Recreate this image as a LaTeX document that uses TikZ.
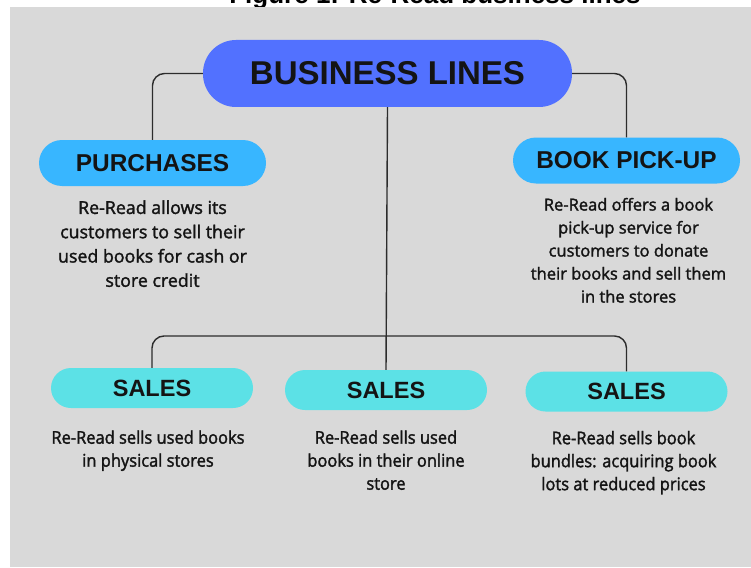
\documentclass[tikz,border=0pt]{standalone}
\usepackage{fontspec}
\setmainfont{Open Sans}
\newfontfamily\headfont{Liberation Sans}
\newfontfamily\bodyfont{Open Sans}[FakeBold=1.8]
\newfontfamily\narrowfont{Open Sans}[FakeBold=1.8,FakeStretch=0.94]
\newfontfamily\titlefont{Liberation Sans}
\usetikzlibrary{positioning}

\definecolor{bggray}{HTML}{D9D9D9}
\definecolor{royal}{HTML}{5271FF}
\definecolor{sky}{HTML}{38B6FF}
\definecolor{aqua}{HTML}{5CE1E6}
\definecolor{ink}{HTML}{141414}

\begin{document}
\begin{tikzpicture}
                [x=1pt,y=-1pt,node distance=14pt,
                blob/.style={rectangle,inner sep=0pt,text=ink},
                big/.style={blob,fill=royal,minimum width=369pt,minimum height=67pt,rounded corners=33pt,
                    font=\headfont\bfseries\fontsize{33}{36}\selectfont},
                mid/.style={blob,fill=sky,minimum width=227pt,minimum height=46pt,rounded corners=23pt,
                    font=\headfont\bfseries\fontsize{24.4}{28}\selectfont},
                low/.style={blob,fill=aqua,minimum width=202pt,minimum height=40pt,rounded corners=20pt,
                    font=\headfont\bfseries\fontsize{23.5}{26}\selectfont},
                desc/.style={align=center,inner sep=0pt,text=ink,font=\bodyfont\fontsize{16.5}{23}\selectfont},
                ndesc/.style={desc,font=\narrowfont\fontsize{17.5}{23}\selectfont},
                link/.style={draw=ink!90,line width=1.4pt,rounded corners=12pt}]
                \useasboundingbox (0,0) rectangle (751,567);
                \node[font=\titlefont\bfseries\fontsize{26}{28}\selectfont,anchor=base] (title) at (435,3.5)
                    {Figure 1: Re-Read business lines};
                \fill[bggray] (10,7) rectangle (751,567);
                % main line and the two upper branches
                \node[big] (biz) at (387.5,73.5) {BUSINESS LINES};
                \node[mid] (purch) at (152.5,163) {PURCHASES};
                \node[desc,font=\bodyfont\fontsize{17.8}{24.3}\selectfont] (purchtext)[below=of purch]
                    {Re-Read allows its\\customers to sell their\\used books for cash or\\store credit};
                \node[mid] (pickup) at (626.5,160.5) {BOOK PICK-UP};
                \node[desc] (pickuptext)[below=of pickup,xshift=2pt]
                    {Re-Read offers a book\\pick-up service for\\customers to donate\\their books and sell them\\in the stores};
                % the three sales lines
                \node[low] (salesa) at (152,388) {SALES};
                \node[low] (salesb) at (386,390) {SALES};
                \node[low] (salesc) at (626.5,391.5) {SALES};
                \node[ndesc,node distance=22pt] (salesatext)[below=of salesa,xshift=-4pt]
                    {Re-Read sells used books\\in physical stores};
                \node[ndesc,node distance=20pt] (salesbtext)[below=of salesb]
                    {Re-Read sells used\\books in their online\\store};
                \node[ndesc,node distance=19pt] (salesctext)[below=of salesc,xshift=-3pt]
                    {Re-Read sells book\\bundles: acquiring book\\lots at reduced prices};
                \coordinate (bar) at (386,336);
                \draw[link] (biz.west) -| (purch.north);
                \draw[link] (biz.east) -| (pickup.north);
                \draw[link] (biz.south) -- (salesb.north);
                \draw[link] (salesa.north) |- (bar) -| (salesc.north);
            \end{tikzpicture}
\end{document}
